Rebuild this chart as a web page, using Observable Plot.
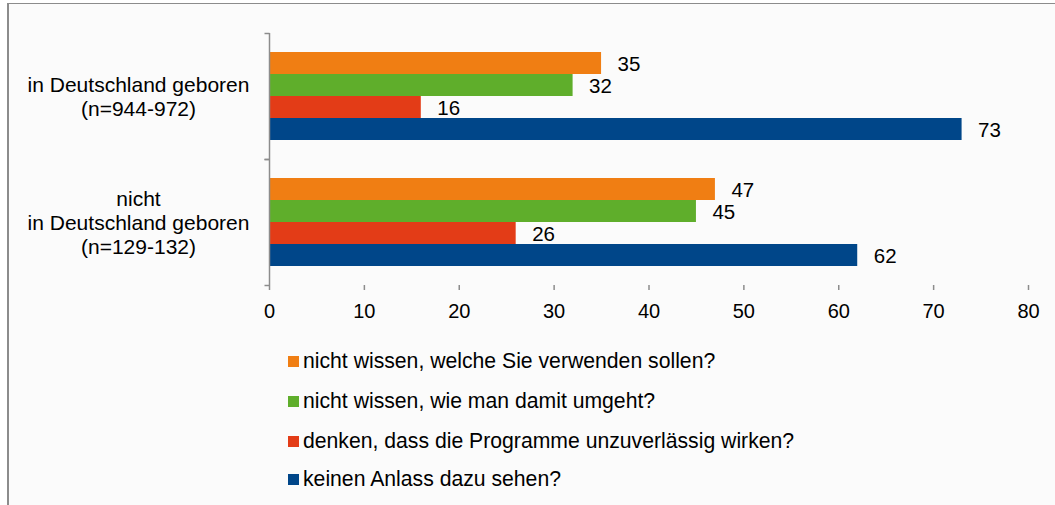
<!DOCTYPE html>
<html>
<head>
<meta charset="utf-8">
<script src="https://cdn.jsdelivr.net/npm/d3@7"></script>
<script src="https://cdn.jsdelivr.net/npm/@observablehq/plot@0.6"></script>
<style>
  html, body { margin: 0; padding: 0; background: #ffffff; width: 1055px; height: 505px; overflow: hidden; }
  body { font-family: "Liberation Sans", Arial, sans-serif; position: relative; }
  #frame { position: absolute; left: 7px; top: 3px; width: 1060px; height: 520px;
           border-left: 2px solid #8c8c8c; border-top: 1px solid #8c8c8c; background: #fbfbfb; }
  #chart { position: absolute; left: 0; top: 0; }
  #legend { position: absolute; left: 288px; top: 0; }
  .row { position: absolute; left: 0; height: 26px; line-height: 26px; font-size: 21.2px; color: #000; white-space: nowrap; display: flex; align-items: center; }
  .sw { width: 11px; height: 11px; margin-right: 4px; display: inline-block; }
</style>
</head>
<body>
<div id="frame"></div>
<div id="chart"></div>
<div id="legend"></div>
<script>
const groups = [
  "in Deutschland geboren\n(n=944-972)",
  "nicht\nin Deutschland geboren\n(n=129-132)"
];
const series = [
  "nicht wissen, welche Sie verwenden sollen?",
  "nicht wissen, wie man damit umgeht?",
  "denken, dass die Programme unzuverlässig wirken?",
  "keinen Anlass dazu sehen?"
];
const colors = ["#F07E13", "#5FAE2B", "#E33C17", "#004689"];
const valuesGroup1 = [35, 32, 16, 73];
const valuesGroup2 = [47, 45, 26, 62];
const xTicks = [0, 10, 20, 30, 40, 50, 60, 70, 80];

const data = [];
[valuesGroup1, valuesGroup2].forEach((vals, gi) => {
  vals.forEach((v, si) => data.push({group: groups[gi], series: series[si], value: v}));
});

const tickSym = { draw(ctx) { ctx.moveTo(-5, 0); ctx.lineTo(0, 0); } };

const chart = Plot.plot({
  width: 1055,
  height: 330,
  marginLeft: 269,
  marginRight: 27,
  marginTop: 33,
  marginBottom: 45,
  style: { background: "transparent", fontFamily: "Liberation Sans, Arial, sans-serif", color: "#000", overflow: "visible" },
  x: { domain: [0, 80] },
  y: { domain: series, paddingInner: 0, paddingOuter: 0.74, axis: null },
  fy: { domain: groups, padding: 0 },
  color: { domain: series, range: colors },
  marks: [
    Plot.barX(data, { x: "value", y: "series", fy: "group", fill: "series", insetTop: 0, insetBottom: 0 }),
    Plot.ruleX([0], { stroke: "#8c8c8c", strokeWidth: 1.5 }),
    Plot.dot([0], { frameAnchor: "top-left", symbol: tickSym, stroke: "#8c8c8c", strokeWidth: 1.5 }),
    Plot.dot([0], { frameAnchor: "bottom-left", symbol: tickSym, stroke: "#8c8c8c", strokeWidth: 1.5 }),
    Plot.text(data, { x: "value", y: "series", fy: "group", text: d => String(d.value), textAnchor: "start", dx: 16, dy: 1, fontSize: 20.5, fill: "#000" }),
    Plot.axisX({ ticks: xTicks, tickFormat: d => String(d), tickSize: 5, tickPadding: 13, fontSize: 20, stroke: "#8c8c8c", strokeWidth: 1.5, strokeOpacity: 1, fill: "#000", label: null, line: true }),
    Plot.axisFy({ anchor: "left", tickSize: 0, tickPadding: 131, textAnchor: "middle", fontSize: 21, lineHeight: 1.13, fill: "#000", label: null })
  ]
});
document.getElementById("chart").appendChild(chart);

const legend = document.getElementById("legend");
const rowCenters = [361, 401, 441, 479];
series.forEach((s, i) => {
  const row = document.createElement("div");
  row.className = "row";
  row.style.top = (rowCenters[i] - 13) + "px";
  const sw = document.createElement("span");
  sw.className = "sw";
  sw.style.background = colors[i];
  row.appendChild(sw);
  row.appendChild(document.createTextNode(s));
  legend.appendChild(row);
});
</script>
</body>
</html>
